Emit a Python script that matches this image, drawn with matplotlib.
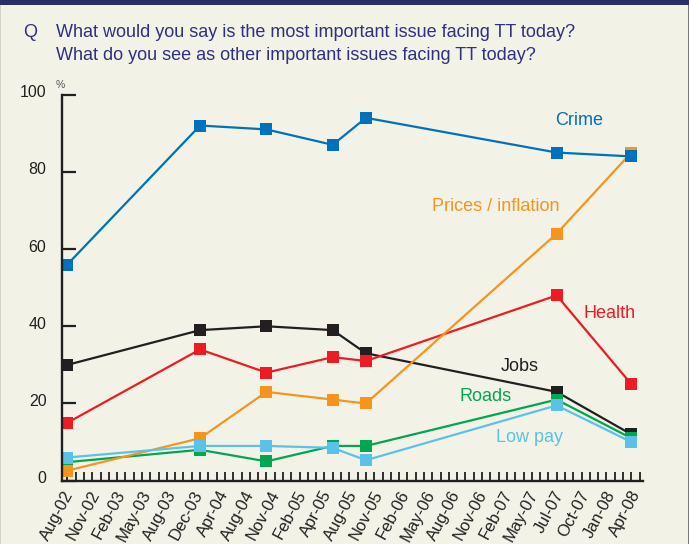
import matplotlib.pyplot as plt
import matplotlib.transforms as mtransforms
import numpy as np
import pandas as pd
from matplotlib.patches import Rectangle

plt.rcParams['font.family'] = ['Liberation Sans', 'DejaVu Sans']

# survey waves and share naming each issue (%)
waves = ["Aug-02", "Dec-03", "Aug-04", "Apr-05", "Aug-05", "Jul-07", "Apr-08"]
crime = [56, 92, 91, 87, 94, 85, 84]
prices = [2.6, 11, 23, 21, 20, 64, 85]
health = [15, 34, 28, 32, 31, 48, 25]
jobs = [30, 39, 40, 39, 33, 23, 12]
roads = [4.8, 8, 5, 9, 9, 21, 11]
low_pay = [6, 9, 9, 8.5, 5.3, 19.5, 10]

axis_labels = ["Aug-02", "Nov-02", "Feb-03", "May-03", "Aug-03", "Dec-03",
               "Apr-04", "Aug-04", "Nov-04", "Feb-05", "Apr-05", "Aug-05",
               "Nov-05", "Feb-06", "May-06", "Aug-06", "Nov-06", "Feb-07",
               "May-07", "Jul-07", "Oct-07", "Jan-08", "Apr-08"]

BG = '#F3F2E7'
NAVY = '#2B2D6C'
INK = '#231F20'

# month number counted from the first wave
start = pd.Period(waves[0].replace("-", "-20"), freq='M')
x = np.array([(pd.Period(w.replace("-", "-20"), freq='M') - start).n for w in waves])

fig = plt.figure(figsize=(6.89, 5.44), dpi=100, facecolor=BG)
ax = fig.add_axes([0.0896, 0.1164, 0.8433, 0.7096])
ax.set_facecolor('none')

# frame and header bar
fig.patches.append(Rectangle((0, 0.991), 1, 0.009, transform=fig.transFigure,
                             facecolor=NAVY, edgecolor='none', zorder=5))
fig.patches.append(Rectangle((0.9985, 0), 0.0015, 1, transform=fig.transFigure,
                             facecolor='#7A7A7A', edgecolor='none', zorder=4))
fig.patches.append(Rectangle((0, 0), 0.0015, 1, transform=fig.transFigure,
                             facecolor='#D2D2CA', edgecolor='none', zorder=4))

fig.text(23 / 689, 1 - 37.3 / 544, "Q", color='#2E3080', fontsize=13, va='baseline')
fig.text(55.5 / 689, 1 - 37.3 / 544,
         "What would you say is the most important issue facing TT today?",
         color='#2E3080', fontsize=13, va='baseline')
fig.text(55.5 / 689, 1 - 60 / 544,
         "What do you see as other important issues facing TT today?",
         color='#2E3080', fontsize=13, va='baseline')

series = [
    (jobs, INK, "Jobs", 54.5, 29.7),
    (health, '#ED1C24', "Health", 65.4, 43.4),
    (roads, '#00A651', "Roads", 50.4, 21.7),
    (prices, '#F7941E', "Prices / inflation", 51.7, 71.0),
    (low_pay, '#5BC2E7', "Low pay", 55.7, 11.1),
    (crime, '#0071BC', "Crime", 61.7, 93.2),
]
for values, color, name, tx, ty in series:
    ax.plot(x, values, color=color, lw=1.6, marker='s', ms=8,
            markeredgewidth=0, clip_on=False)
    ax.text(tx, ty, name, color=color, fontsize=13, ha='center', va='center')

ax.set_xlim(-0.675, 69.38)
ax.set_ylim(0, 100)

for side in ['top', 'right']:
    ax.spines[side].set_visible(False)
for side in ['left', 'bottom']:
    ax.spines[side].set_color(INK)
    ax.spines[side].set_linewidth(1.7)

ax.set_yticks(range(0, 101, 20))
ax.tick_params(axis='y', direction='in', length=10, width=1.6, pad=11,
               labelsize=11.5, color=INK, labelcolor=INK)
lift = mtransforms.ScaledTranslation(0, 3.5 / 100, fig.dpi_scale_trans)
for lbl in ax.get_yticklabels():
    lbl.set_transform(lbl.get_transform() + lift)
ax.text(-0.8, 101.2, "%", fontsize=7.5, color='#555555', ha='center', va='bottom')

ax.set_xticks(np.arange(0, 70), minor=True)
ax.tick_params(axis='x', which='minor', direction='in', length=6.5, width=1.3,
               color=INK)
ax.set_xticks(np.linspace(0.3, 68.7, len(axis_labels)))
ax.set_xticklabels(axis_labels, rotation=62, ha='right', va='center',
                   rotation_mode='anchor', fontsize=12, color=INK)
ax.tick_params(axis='x', which='major', length=0, pad=8)

fig.savefig('out.png', dpi=100, facecolor=BG)
